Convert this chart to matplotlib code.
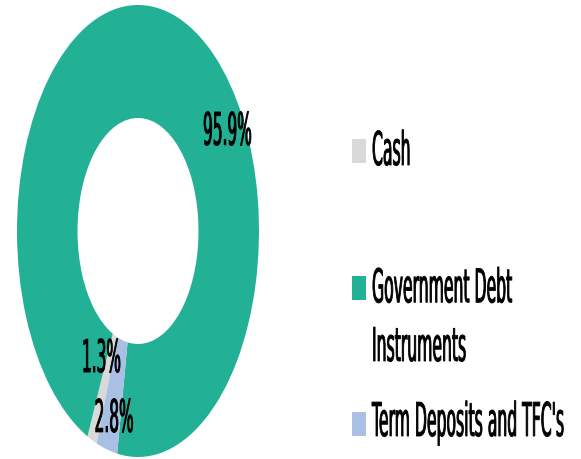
import matplotlib
matplotlib.use('Agg')
import matplotlib.pyplot as plt
from matplotlib.patheffects import AbstractPathEffect
from matplotlib.transforms import Affine2D
from matplotlib.patches import Rectangle

# ---- data ----
categories = ['Cash', 'Government Debt\nInstruments', "Term Deposits and TFC's"]
values = [1.3, 95.9, 2.8]
colors = ['#D9D9D9', '#22B195', '#A9C0E4']
pct_labels = ['1.3%', '95.9%', '2.8%']

W, H = 581, 460


class Tall(AbstractPathEffect):
    """Stretch glyphs vertically about their baseline (narrow display-face look)."""

    def __init__(self, sy=2.95, lw=0.6):
        super().__init__()
        self.sy, self.lw = sy, lw

    def draw_path(self, renderer, gc, tpath, affine, rgbFace=None):
        t = Affine2D().scale(1, self.sy) + affine
        gc0 = renderer.new_gc()
        gc0.copy_properties(gc)
        if rgbFace is not None:
            gc0.set_foreground(rgbFace, isRGBA=True)
        gc0.set_linewidth(self.lw)
        renderer.draw_path(gc0, tpath, t, rgbFace)
        gc0.restore()


fig = plt.figure(figsize=(W / 100, H / 100), dpi=100)
fig.patch.set_facecolor('white')

# donut axes (elliptical, fills the left part of the figure)
ax = fig.add_axes([17 / W, (H - 458) / H, 242 / W, 452 / H])
wedges, _ = ax.pie(values, colors=colors, startangle=250, counterclock=False,
                   radius=1.0, wedgeprops=dict(width=0.5, linewidth=0))
ax.set_aspect('auto')
ax.set_xlim(-1, 1)
ax.set_ylim(-1, 1)
ax.axis('off')

# data-label positions (axes data units), baseline aligned
label_pos = [(-0.302, -0.624), (0.740, 0.381), (-0.198, -0.889)]
for (x, y), lab in zip(label_pos, pct_labels):
    ax.text(x, y, lab, ha='center', va='baseline', fontsize=11.05,
            family='DejaVu Sans', color='black',
            path_effects=[Tall(sy=2.94, lw=0.6)])

# legend (drawn manually to match the spacing of the reference)
marker_centers = [151.5, 289, 425]   # px from top
text_baselines = [166, 362, 437]     # px from top (baseline of last line)
mx, mw, mh = 352, 14, 24
tx = 372
for cat, col, yc, yb in zip(categories, colors, marker_centers, text_baselines):
    fig.add_artist(Rectangle((mx / W, 1 - (yc + mh / 2) / H), mw / W, mh / H,
                             transform=fig.transFigure, facecolor=col,
                             edgecolor='none'))
    fig.text(tx / W, 1 - yb / H, cat, ha='left', va='baseline', fontsize=11.26,
             family='DejaVu Sans', color='black', linespacing=4.64,
             path_effects=[Tall(sy=2.976, lw=0.6)])

fig.savefig('out.png', dpi=100, facecolor='white')
